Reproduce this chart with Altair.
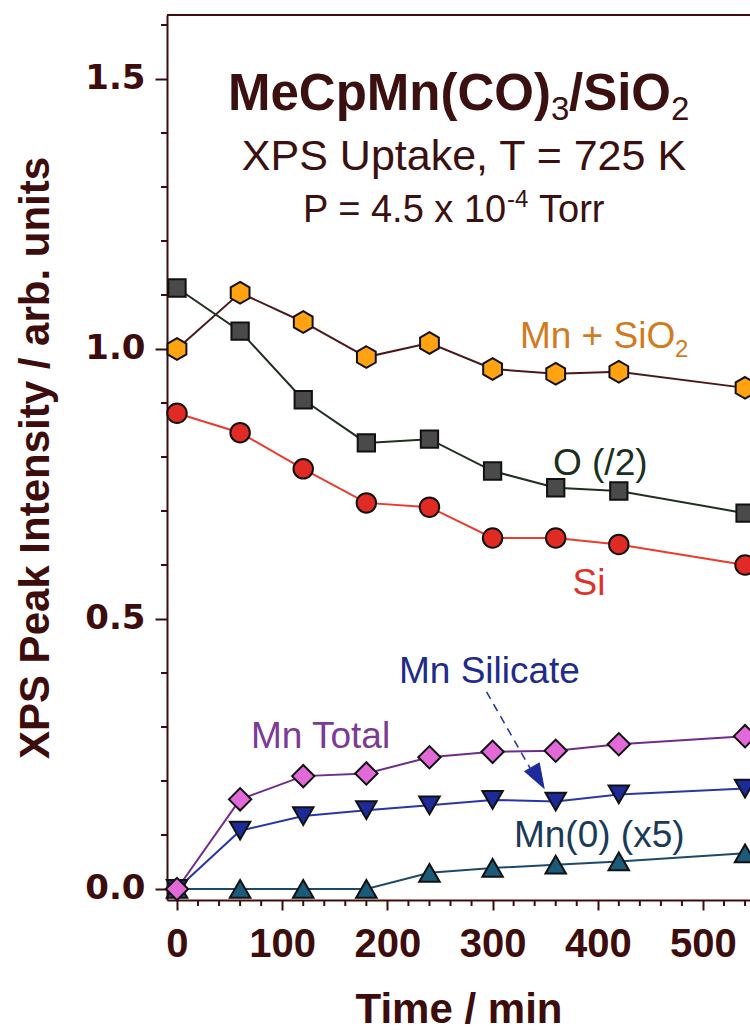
import altair as alt
import pandas as pd

# ---- data: XPS peak intensities vs. exposure time ----
times = [0, 60, 120, 180, 240, 300, 360, 420, 540]
mn_sio2 = [1.000, 1.104, 1.050, 0.985, 1.011, 0.963, 0.954, 0.958, 0.928]
o_half = [1.113, 1.033, 0.906, 0.826, 0.833, 0.774, 0.743, 0.737, 0.696]
si = [0.881, 0.845, 0.778, 0.715, 0.707, 0.650, 0.650, 0.638, 0.600]
mn_total = [0.0, 0.166, 0.209, 0.214, 0.244, 0.254, 0.256, 0.268, 0.283]
mn_silicate = [0.0, 0.108, 0.135, 0.146, 0.155, 0.165, 0.162, 0.175, 0.186]
mn0_x5 = [0.0, 0.0, 0.0, 0.0, 0.030, 0.039, 0.045, 0.051, 0.066]

y_major = [0.0, 0.5, 1.0, 1.5]
y_minor = [0.1, 0.2, 0.3, 0.4, 0.6, 0.7, 0.8, 0.9, 1.1, 1.2, 1.3, 1.4, 1.6]
x_major = [0, 100, 200, 300, 400, 500]
x_minor = [20, 40, 60, 80, 120, 140, 160, 180, 220, 240, 260, 280,
           320, 340, 360, 380, 420, 440, 460, 480, 520, 540]

# ---- styling ----
MAROON = "#3d0c0c"
W, H = 583, 885
HEX = "M0,-1L0.866,-0.5L0.866,0.5L0,1L-0.866,0.5L-0.866,-0.5Z"
ARROW = "M0,0L0.7,2L-0.7,2Z"

xscale = alt.Scale(domain=[-9.5, 544.7], nice=False, zero=False)
yscale = alt.Scale(domain=[-0.0204, 1.6185], nice=False, zero=False)

x_axis = alt.Axis(
    values=x_major, title="Time / min", format="d",
    domainColor=MAROON, domainWidth=2, tickColor=MAROON, tickWidth=2,
    tickSize=10, labelFont="Liberation Sans", labelFontWeight="bold",
    labelFontSize=40, labelColor=MAROON, labelPadding=14,
    labelBaseline="top", labelFlush=False, grid=False,
    titleFont="Liberation Sans", titleFontWeight="bold", titleFontSize=42,
    titleColor=MAROON, titleBaseline="alphabetic", titleY=122,
)
y_axis = alt.Axis(
    values=y_major, title="XPS Peak Intensity / arb. units", format=".1f",
    domainColor=MAROON, domainWidth=2, tickColor=MAROON, tickWidth=2,
    tickSize=12, labelFont="DejaVu Sans", labelFontWeight="bold",
    labelFontSize=34, labelColor=MAROON, labelPadding=10,
    labelFlush=False, grid=False,
    titleFont="Liberation Sans", titleFontWeight="bold", titleFontSize=42,
    titleColor=MAROON, titleBaseline="alphabetic", titleX=-119,
    titleY=H / 2, titleAngle=270,
)

X = alt.X("t:Q", scale=xscale, axis=x_axis)
Y = alt.Y("v:Q", scale=yscale, axis=y_axis)

series = [
    # name, values, shape, fill, line colour, marker size
    ("Mn + SiO2", mn_sio2, HEX, "#ffa312", "#4a1818", 470),
    ("O (/2)", o_half, "square", "#4a4a4a", "#1f301f", 300),
    ("Si", si, "circle", "#e02a24", "#ec3a2c", 380),
    ("Mn(0) (x5)", mn0_x5, "triangle-up", "#1b5a78", "#1d4a6a", 420),
    ("Mn Silicate", mn_silicate, "triangle-down", "#1d2b98", "#2a36a8", 420),
    ("Mn Total", mn_total, "diamond", "#e26ad8", "#6e2d8c", 500),
]


def frame(values):
    return pd.DataFrame({"t": times, "v": values})


lines = []
points = []
for name, vals, shape, fill, lcol, size in series:
    df = frame(vals)
    lines.append(
        alt.Chart(df).mark_line(color=lcol, strokeWidth=2).encode(x=X, y=Y)
    )
    points.append(
        alt.Chart(df).mark_point(
            shape=shape, filled=True, fill=fill, stroke="#111111",
            strokeWidth=2, opacity=1, size=size
        ).encode(x=X, y=Y)
    )

# minor ticks and top border
y_minor_ticks = alt.Chart(pd.DataFrame({"v": y_minor})).mark_rule(
    color=MAROON, strokeWidth=2).encode(y=Y, x=alt.value(-6), x2=alt.value(0))
x_minor_ticks = alt.Chart(pd.DataFrame({"t": x_minor})).mark_rule(
    color=MAROON, strokeWidth=2).encode(x=X, y=alt.value(H), y2=alt.value(H + 6))
top_border = alt.Chart(pd.DataFrame({"t": [0]})).mark_rule(
    color=MAROON, strokeWidth=2).encode(x=alt.value(0), x2=alt.value(W), y=alt.value(0))


def label(text, t, v, size, color, weight="normal", dx=0, dy=0, align="left"):
    return alt.Chart(pd.DataFrame({"t": [t], "v": [v]})).mark_text(
        text=text, font="Liberation Sans", fontSize=size, fontWeight=weight,
        color=color, align=align, baseline="alphabetic", dx=dx, dy=dy
    ).encode(x=X, y=Y)


TITLE = "#3a1010"
texts = [
    label("MeCpMn(CO)", 48.5, 1.443, 51, TITLE, "bold"),
    label("3", 48.5, 1.443, 33, TITLE, dx=323, dy=10),
    label("/SiO", 48.5, 1.443, 51, TITLE, "bold", dx=341),
    label("2", 48.5, 1.443, 33, TITLE, dx=443, dy=10),
    label("XPS Uptake, T = 725 K", 272.8, 1.331, 43, TITLE, align="center"),
    label("P = 4.5 x 10", 119.8, 1.235, 38, TITLE),
    label("-4", 119.8, 1.235, 24, TITLE, dx=204, dy=-15),
    label("Torr", 119.8, 1.235, 38, TITLE, dx=236),
    label("Mn + SiO", 326.0, 1.002, 37, "#d27a1e"),
    label("2", 326.0, 1.002, 24, "#d27a1e", dx=155, dy=9),
    label("O (/2)", 357.4, 0.767, 37, "#1c2e1c"),
    label("Si", 376.0, 0.544, 37, "#e0302a"),
    label("Mn Total", 70.3, 0.261, 37, "#7b3a96"),
    label("Mn Silicate", 211.0, 0.381, 37, "#1e2a8c"),
    label("Mn(0) (x5)", 320.3, 0.077, 37, "#1b3a5a"),
]

# dashed pointer from the "Mn Silicate" label
pointer = alt.Chart(pd.DataFrame({"t": [294.3, 335.6], "v": [0.365, 0.224]})).mark_line(
    color="#2a3a9a", strokeWidth=1.6, strokeDash=[8, 6]).encode(x=X, y=Y)
arrow_head = alt.Chart(pd.DataFrame({"t": [348.9], "v": [0.187]})).mark_point(
    shape=ARROW, filled=True, fill="#1e2a9a", stroke="#1e2a9a", strokeWidth=1,
    opacity=1, size=576, angle=150).encode(x=X, y=Y)

chart = alt.layer(
    y_minor_ticks, x_minor_ticks, top_border,
    *lines, *points, pointer, arrow_head, *texts
).properties(
    width=W, height=H,
    padding={"left": 167, "top": 15, "right": 0, "bottom": 130},
    autosize=alt.AutoSizeParams(type="none"),
    background="white",
).configure_view(stroke=None)

chart.save("out.html", embed_options={"renderer": "svg", "actions": False})
